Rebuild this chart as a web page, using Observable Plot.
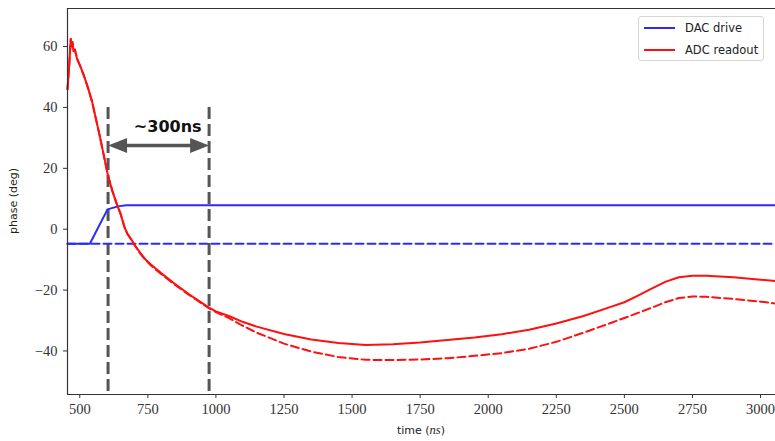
<!DOCTYPE html>
<html>
<head>
<meta charset="utf-8">
<script src="https://cdn.jsdelivr.net/npm/d3@7"></script>
<script src="https://cdn.jsdelivr.net/npm/@observablehq/plot@0.6"></script>
<style>
  html, body { margin: 0; padding: 0; background: #fff; }
  #wrap { position: relative; width: 775px; height: 441px; overflow: hidden; }
  #wrap svg g[aria-label*="axis"] text, #wrap svg g[aria-label*="axis"] { font-family: "Liberation Serif", "DejaVu Serif", serif !important; font-size: 14.5px !important; fill: #333; }
  .lbl { position: absolute; font-family: "DejaVu Sans", sans-serif; font-size: 11px; color: #222; white-space: nowrap; }
  #legend { position: absolute; left: 638px; top: 16px; width: 126px; height: 45px; border: 1px solid #d6d6d6; border-radius: 3px; background: #fff; font-family: "DejaVu Sans", sans-serif; font-size: 11.5px; color: #222; box-sizing: border-box; }
  .li { position: absolute; left: 5px; display: flex; align-items: center; }
  .sw { width: 31px; height: 0; border-top: 2px solid; margin-right: 10px; }
</style>
</head>
<body>
<div id="wrap"></div>
<script>
// ---- data ----
const xTicks = [500, 750, 1000, 1250, 1500, 1750, 2000, 2250, 2500, 2750, 3000];
const yTicks = [-40, -20, 0, 20, 40, 60];

const dacT = [455, 537, 602, 640, 671, 3055];
const dacV = [-4.8, -4.8, 6.5, 7.5, 7.9, 7.9];

const dacRefT = [455, 3055];
const dacRefV = [-4.8, -4.8];

const adcT = [455, 460, 464, 467, 470, 473, 477, 482, 490, 500, 515, 530, 545, 560, 575, 590, 604, 620, 635, 650, 665, 675, 690, 700, 720, 740, 760, 800, 850, 900, 950, 975, 1000, 1050, 1100, 1150, 1250, 1350, 1450, 1550, 1650, 1750, 1850, 1950, 2050, 2150, 2250, 2350, 2450, 2500, 2550, 2600, 2650, 2700, 2750, 2800, 2900, 3000, 3055];
const adcV = [46, 52, 58, 62.5, 60, 61.5, 58.5, 59, 56, 54, 50.5, 46.5, 42, 36, 30, 23.5, 17.5, 12.5, 8.5, 5, 0.5, -1.5, -3.5, -5, -7.5, -9.8, -11.5, -14.5, -18, -21.3, -24.3, -25.8, -27, -28.6, -30.5, -32, -34.4, -36.2, -37.4, -38, -37.8, -37.2, -36.4, -35.6, -34.5, -33, -31, -28.5, -25.5, -24, -21.8, -19.5, -17.3, -15.8, -15.3, -15.3, -15.8, -16.6, -17];

const adcRefT = [455, 460, 464, 467, 470, 473, 477, 482, 490, 500, 515, 530, 545, 560, 575, 590, 604, 620, 635, 650, 665, 675, 690, 700, 720, 740, 760, 800, 850, 900, 950, 975, 1000, 1050, 1100, 1150, 1250, 1350, 1450, 1550, 1650, 1750, 1850, 1950, 2050, 2150, 2250, 2350, 2450, 2550, 2600, 2650, 2700, 2750, 2800, 2900, 3000, 3055];
const adcRefV = [46, 52, 58, 62.5, 60, 61.5, 58.5, 59, 56, 54, 50.5, 46.5, 42, 36, 30, 23.5, 17.5, 12.5, 8.5, 5, 0.5, -1.5, -3.5, -5, -7.8, -10, -11.8, -14.8, -18.3, -21.5, -24.5, -26, -27.2, -29.3, -31.8, -34, -37.6, -40.2, -42, -42.9, -43, -42.8, -42.4, -41.6, -40.7, -39.3, -37, -34, -30.8, -27.5, -25.8, -24, -22.6, -22.1, -22.2, -22.9, -23.8, -24.4];

const markerTimes = [604, 975];
const markerTop = 40;
const bracketY = 27.5;
const bracketLabel = "~300ns";
const bracketLabelPos = [823, 33.5];

const xDomain = [455, 3055];
const yDomain = [-54.3, 72.5];

// ---- helpers ----
const toRows = (t, v) => t.map((d, i) => ({t: d, v: v[i]}));
const minus = d => d < 0 ? "\u2212" + (-d) : String(d);

const headRight = {draw(ctx) { ctx.moveTo(0, 0); ctx.lineTo(-19, -7.5); ctx.lineTo(-19, 7.5); ctx.closePath(); }};
const headLeft = {draw(ctx) { ctx.moveTo(0, 0); ctx.lineTo(19, -7.5); ctx.lineTo(19, 7.5); ctx.closePath(); }};

const gray = "#555";
const blue = "#2b2bff";
const red = "#ff1010";

const chart = Plot.plot({
  width: 775,
  height: 441,
  marginLeft: 67,
  marginTop: 8,
  marginRight: 0,
  marginBottom: 47,
  style: {fontFamily: "'Liberation Serif', serif", fontSize: "14.5px", color: "#333", background: "#fff"},
  x: {domain: xDomain, ticks: xTicks, tickSize: 4, tickPadding: 5, tickFormat: minus, label: null},
  y: {domain: yDomain, ticks: yTicks, tickSize: 4, tickPadding: 6, tickFormat: minus, label: null},
  marks: [
    Plot.ruleX(markerTimes, {x: d => d, y1: markerTop, y2: yDomain[0], stroke: gray, strokeWidth: 3, strokeDasharray: "12,5"}),
    Plot.line(toRows(dacRefT, dacRefV), {x: "t", y: "v", stroke: blue, strokeWidth: 2, strokeDasharray: "8,4"}),
    Plot.line(toRows(dacT, dacV), {x: "t", y: "v", stroke: blue, strokeWidth: 2}),
    Plot.line(toRows(adcRefT, adcRefV), {x: "t", y: "v", stroke: red, strokeWidth: 2, strokeDasharray: "8,4"}),
    Plot.line(toRows(adcT, adcV), {x: "t", y: "v", stroke: red, strokeWidth: 2}),
    Plot.ruleY([bracketY], {x1: markerTimes[0] + 50, x2: markerTimes[1] - 50, stroke: gray, strokeWidth: 3.5}),
    Plot.dot([markerTimes[1]], {x: d => d, y: bracketY, symbol: headRight, fill: gray, stroke: "none", r: 5}),
    Plot.dot([markerTimes[0]], {x: d => d, y: bracketY, symbol: headLeft, fill: gray, stroke: "none", r: 5}),
    Plot.text([bracketLabel], {x: bracketLabelPos[0], y: bracketLabelPos[1], text: d => d, fontFamily: "'DejaVu Sans', sans-serif", fontWeight: "bold", fontSize: 16, fill: "#111"}),
    Plot.ruleX([xDomain[0]], {stroke: "#333", strokeWidth: 1.2}),
    Plot.ruleY([yDomain[1]], {stroke: "#333", strokeWidth: 1.2}),
    Plot.ruleY([yDomain[0]], {stroke: "#333", strokeWidth: 1.2})
  ]
});

const wrap = document.getElementById("wrap");
wrap.appendChild(chart);

// axis labels
const xl = document.createElement("div");
xl.className = "lbl";
xl.innerHTML = 'time (<i style="font-family:\'Liberation Serif\',serif;font-size:12.5px">ns</i>)';
xl.style.left = "421px"; xl.style.top = "423px"; xl.style.transform = "translateX(-50%)";
wrap.appendChild(xl);

const yl = document.createElement("div");
yl.className = "lbl";
yl.textContent = "phase (deg)";
yl.style.left = "13px"; yl.style.top = "201px"; yl.style.transform = "translate(-50%,-50%) rotate(-90deg)";
wrap.appendChild(yl);

// legend
const lg = document.createElement("div");
lg.id = "legend";
const entries = [["DAC drive", blue, 4], ["ADC readout", red, 26]];
for (const [name, col, top] of entries) {
  const li = document.createElement("div");
  li.className = "li"; li.style.top = top + "px";
  li.innerHTML = `<span class="sw" style="border-color:${col}"></span><span>${name}</span>`;
  lg.appendChild(li);
}
wrap.appendChild(lg);
</script>
</body>
</html>
